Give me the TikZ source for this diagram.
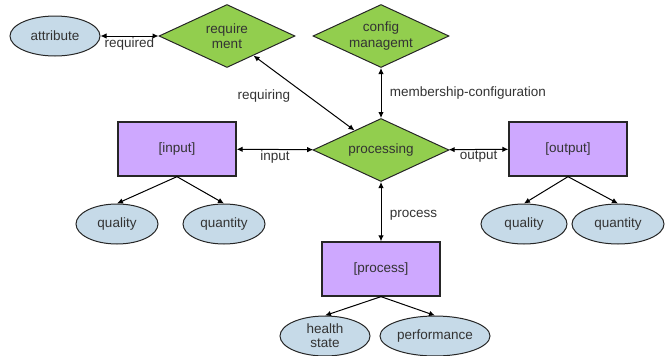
\documentclass[tikz,border=0pt]{standalone}
\usepackage{fontspec}
\setmainfont{Liberation Sans}
\usetikzlibrary{shapes.geometric,arrows.meta}
\definecolor{attrblue}{RGB}{198,218,232}
\definecolor{relgreen}{RGB}{146,206,78}
\definecolor{entpurple}{RGB}{206,168,255}

\begin{document}
\begin{tikzpicture}[x=1pt,y=-1pt,font=\fontsize{13.5}{15.5}\selectfont,text=black!80,
 entity/.style={draw=black!85,line width=1.3pt,fill=entpurple,minimum width=118pt,minimum height=54pt},
 relation/.style={diamond,aspect=2.2,draw=black!85,line width=1pt,fill=relgreen,align=center,inner sep=0pt,minimum width=136pt,minimum height=63pt},
 attr/.style={ellipse,draw=black!85,line width=1pt,fill=attrblue,align=center,inner sep=0pt,minimum width=86pt,minimum height=40pt},
 link/.style={line width=1pt,{Latex[length=6pt,width=5.5pt]}-{Latex[length=6pt,width=5.5pt]}},
 tree/.style={line width=1pt,-{Latex[length=6pt,width=5.5pt]}}]
\useasboundingbox (0,0) rectangle (672,356);

% relationships
\node[relation] (requirement) at (227,36) {require\\ment};
\node[relation] (config) at (381,36) {config\\managemt};
\node[relation] (processing) at (381,150) {processing};

% entities
\node[entity] (input) at (177,149) {[input]};
\node[entity] (output) at (568,149) {[output]};
\node[entity] (process) at (381,269) {[process]};

% attributes
\node[attr,minimum width=90pt] (attribute) at (55,36) {attribute};
\node[attr,minimum width=82pt] (inquality) at (117,224) {quality};
\node[attr,minimum width=82pt] (inquantity) at (224,224) {quantity};
\node[attr] (outquality) at (524,224) {quality};
\node[attr,minimum width=92pt] (outquantity) at (618,224) {quantity};
\node[attr,minimum width=90pt,font=\fontsize{13.5}{14}\selectfont] (health) at (325,336) {health\\state};
\node[attr,minimum width=110pt] (performance) at (435,336) {performance};

% links
\draw[link] (attribute) -- node[below=-2pt] {required} (requirement);
\draw[link] (requirement) -- node[left=10pt,yshift=-3pt] {requiring} (processing);
\draw[link] (config) -- node[right=5pt] {membership-configuration} (processing);
\draw[link] (input) -- node[below=-3pt] {input} (processing);
\draw[link] (processing) -- node[below=-3pt] {output} (output);
\draw[link] (processing) -- node[right=5pt,yshift=-4pt] {process} (process);

\draw[tree] (input.south) -- (inquality.north);
\draw[tree] (input.south) -- (inquantity.north);
\draw[tree] (output.south) -- (outquality.north);
\draw[tree] (output.south) -- (outquantity.north);
\draw[tree] (process.south) -- (health.north);
\draw[tree] (process.south) -- (performance.north);
\end{tikzpicture}
\end{document}
